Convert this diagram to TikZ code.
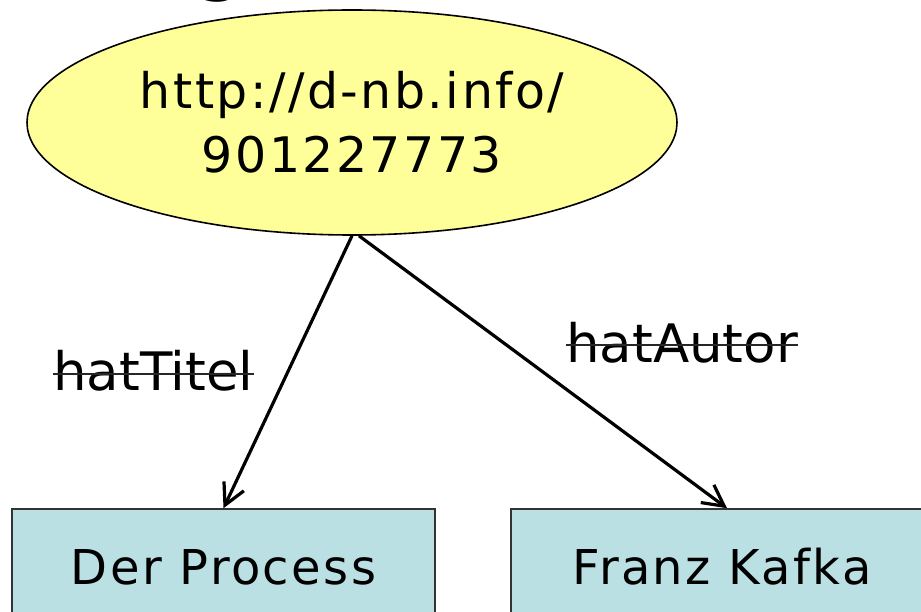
\documentclass[tikz,border=0pt]{standalone}
\usepackage{fontspec}
\setmainfont{DejaVu Sans}
\newfontfamily\nodefont{DejaVu Sans}[LetterSpace=5.0]
\usetikzlibrary{shapes.geometric,arrows.meta}
\definecolor{resyellow}{HTML}{FFFF99}
\definecolor{boxblue}{HTML}{BBE0E3}
\tikzset{
  litbox/.style={rectangle, draw=black!80, line width=1.5pt, fill=boxblue,
    minimum width=423pt, minimum height=116pt, inner sep=0pt,
    font=\nodefont\fontsize{48}{58}\selectfont},
  resnode/.style={ellipse, draw=black, line width=1.6pt, fill=resyellow,
    minimum width=650pt, minimum height=225pt, inner sep=0pt, align=center,
    font=\nodefont\fontsize{49}{64}\selectfont},
  proplabel/.style={anchor=base west, inner sep=0pt, font=\fontsize{53}{60}\selectfont},
  strike/.style={draw=black!85, line width=2pt},
  edge/.style={line width=3.2pt, -{Straight Barb[length=21pt,width=22pt,line width=3.2pt]}}
}
\begin{document}
\begin{tikzpicture}[x=1pt,y=-1pt]
\useasboundingbox (0,0) rectangle (921,612);
\node[font=\bfseries\fontsize{64}{64}\selectfont, anchor=base, inner sep=0pt] (title) at (220,-11) {g};
\node[resnode] (res) at (352,122.5) {http://d-nb.info/\\901227773};
\node[litbox] (p) at (223.5,567) {Der Process};
\node[litbox, minimum width=422pt] (k) at (722,567) {Franz Kafka};
\node[proplabel] (lt) at (53,390) {hatTitel};
\node[proplabel] (la) at (566,362) {hatAutor};
\draw[strike] ([yshift=16pt]lt.base west) -- ([yshift=16pt]lt.base east);
\draw[strike] ([yshift=17pt]la.base west) -- ([yshift=17pt]la.base east);
\draw[edge] (res.south) -- (p.north);
\draw[edge] ([xshift=7pt]res.south) -- ([xshift=5pt]k.north);
\end{tikzpicture}
\end{document}
